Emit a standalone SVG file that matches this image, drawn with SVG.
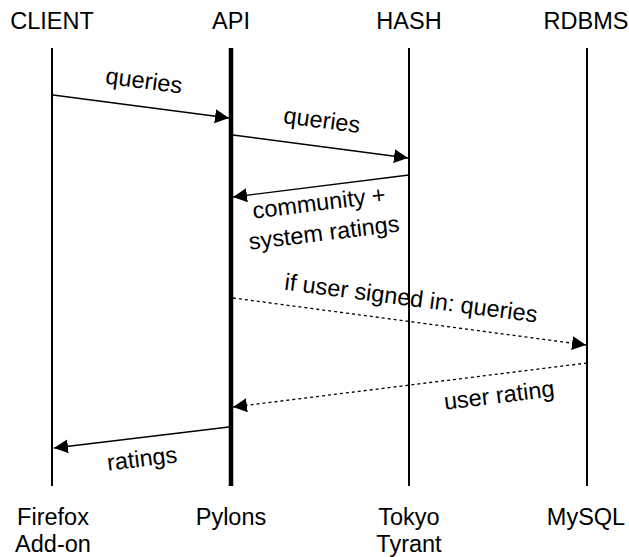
<svg xmlns="http://www.w3.org/2000/svg" width="629" height="557" viewBox="0 0 629 557">
<style>
text{font-family:"Liberation Sans",Arial,sans-serif;font-size:23.5px;fill:#000;text-anchor:middle}
.life{stroke:#000;stroke-width:2;fill:none}
.api{stroke-width:4.5}
.msg{stroke:#000;stroke-width:1.3;fill:none;marker-end:url(#ah)}
.dash{stroke-dasharray:3,3}
</style>
<defs>
<marker id="ah" viewBox="0 0 14 14" refX="14" refY="7" markerWidth="14" markerHeight="14" markerUnits="userSpaceOnUse" orient="auto">
<path d="M0,0 L14,7 L0,14 z" fill="#000"/>
</marker>
</defs>
<rect width="629" height="557" fill="#fff"/>
<g id="client">
<text x="52" y="29">CLIENT</text>
<line class="life" x1="52" y1="48" x2="52" y2="486"/>
<text x="53" y="525">Firefox</text>
<text x="53" y="552">Add-on</text>
</g>
<g id="api">
<text x="231" y="29">API</text>
<line class="life api" x1="231" y1="48" x2="231" y2="486"/>
<text x="231" y="525">Pylons</text>
</g>
<g id="hash">
<text x="409" y="29">HASH</text>
<line class="life" x1="409" y1="48" x2="409" y2="486"/>
<text x="409" y="525">Tokyo</text>
<text x="409" y="552">Tyrant</text>
</g>
<g id="rdbms">
<text x="586" y="29">RDBMS</text>
<line class="life" x1="587" y1="48" x2="587" y2="486"/>
<text x="586" y="525">MySQL</text>
</g>
<g id="connectors">
<line class="msg" x1="53" y1="95" x2="229" y2="118"/>
<text transform="translate(143,88.5) rotate(7.4)">queries</text>
<line class="msg" x1="233" y1="135" x2="408" y2="158"/>
<text transform="translate(321,128) rotate(7.4)">queries</text>
<line class="msg" x1="409" y1="175" x2="233" y2="197"/>
<text transform="translate(320,210.5) rotate(-7)">community +</text>
<text transform="translate(325,240.5) rotate(-7)">system ratings</text>
<line class="msg dash" x1="233" y1="298" x2="586" y2="345"/>
<text transform="translate(410,306) rotate(7.4)">if user signed in: queries</text>
<line class="msg dash" x1="587" y1="363" x2="233" y2="407"/>
<text transform="translate(500,403) rotate(-7)">user rating</text>
<line class="msg" x1="229" y1="427" x2="54" y2="448"/>
<text transform="translate(143,466.5) rotate(-7)">ratings</text>
</g>
</svg>
